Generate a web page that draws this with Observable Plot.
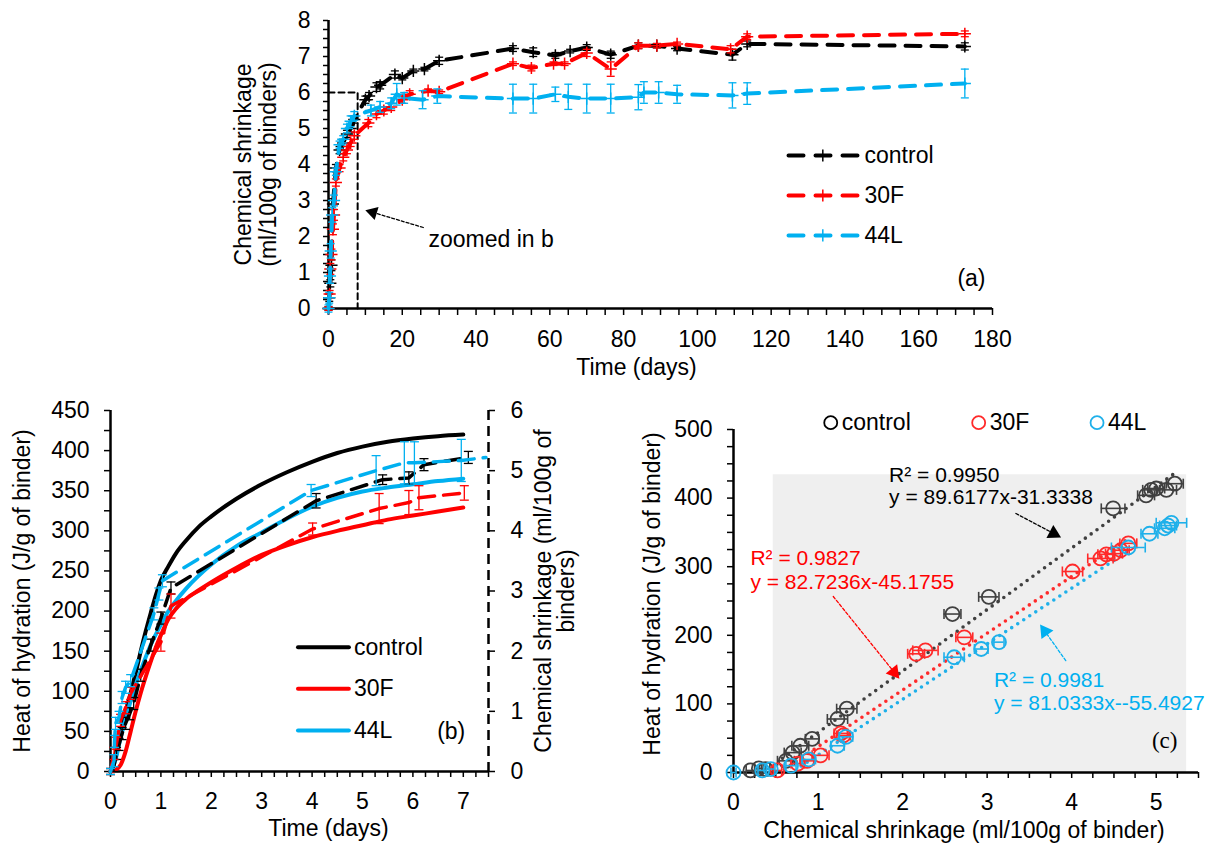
<!DOCTYPE html>
<html><head><meta charset="utf-8">
<script src="https://cdn.jsdelivr.net/npm/d3@7"></script>
<script src="https://cdn.jsdelivr.net/npm/@observablehq/plot@0.6"></script>
<style>
html,body{margin:0;padding:0;background:#fff;color:#000;}
#wrap{position:relative;width:1213px;height:843px;overflow:hidden;}
.panel{position:absolute;}
.panel svg{overflow:visible;background:transparent;}
</style></head><body>
<div id="wrap">
  <div id="pa" class="panel" style="left:200px;top:0px"></div>
  <div id="pb" class="panel" style="left:0px;top:395px"></div>
  <div id="pc" class="panel" style="left:610px;top:400px"></div>
</div>
<script>
// ================= DATA =================
const seriesNames = ["control", "30F", "44L"];

// Panel (a): [day, chemical shrinkage (ml/100g), error]
const controlA = [[0,0,0.05],[0.2,0.3,0.1],[0.5,0.7,0.1],[0.8,1.2,0.15],[1.2,2.9,0.15],[2,3.9,0.1],[3,4.4,0.1],[4,4.6,0.1],[5,4.85,0.1],[6,5.0,0.1],[7,5.25,0.1],[10,5.8,0.1],[11,5.9,0.1],[13,6.15,0.12],[14,6.2,0.1],[18,6.5,0.1],[20,6.4,0.05],[23,6.6,0.05],[26,6.65,0.05],[30,6.88,0.1],[50,7.22,0.08],[55.5,7.12,0.12],[61.5,7.03,0.08],[65.5,7.15,0.05],[70,7.25,0.08],[76.5,7.05,0.1],[84,7.3,0.08],[89,7.3,0.06],[94.5,7.22,0.06],[109.5,7.05,0.15],[113.5,7.35,0.08],[172.5,7.28,0.1]];
const f30A = [[0,0,0.05],[0.3,0.4,0.1],[0.5,1.1,0.15],[0.8,1.5,0.15],[1.2,2.2,0.15],[1.5,2.6,0.15],[2,3.5,0.1],[3,3.9,0.1],[4,4.2,0.1],[5,4.4,0.1],[6,4.6,0.1],[7,4.8,0.1],[10.8,5.15,0.1],[13,5.4,0.1],[15,5.5,0.1],[17,5.6,0.1],[20,5.8,0.1],[22,5.95,0.1],[27,6.05,0.05],[30,6.02,0.05],[50,6.8,0.05],[55,6.68,0.08],[61,6.8,0.05],[64,6.8,0.05],[70,7.1,0.1],[76.5,6.65,0.2],[84,7.3,0.08],[89,7.3,0.06],[94.5,7.35,0.05],[109,7.2,0.1],[113.5,7.55,0.08],[172.5,7.63,0.08]];
const l44A = [[0,0,0.1],[0.2,0.3,0.15],[0.4,0.9,0.2],[0.6,1.6,0.2],[1,2.6,0.2],[1.5,3.0,0.15],[2,3.8,0.1],[3,4.55,0.1],[4,4.7,0.1],[5,5.0,0.12],[6,5.2,0.15],[7,5.35,0.12],[11.5,5.5,0.15],[14,5.6,0.15],[17,5.7,0.15],[18.5,5.95,0.3],[20.5,5.85,0.15],[25.5,5.8,0.25],[29.5,5.9,0.2],[50,5.83,0.4],[55.5,5.83,0.4],[61.5,5.95,0.2],[65,5.88,0.35],[70,5.83,0.4],[76.5,5.83,0.4],[84,5.87,0.35],[85.5,6.0,0.3],[89.5,6.0,0.3],[94.5,5.95,0.25],[109.5,5.92,0.35],[113.5,5.97,0.3],[172.5,6.25,0.4]];
const zoomBoxA = [[0,6],[7.9,6],[7.9,0]];
const xTickLabelsA = d3.range(0, 181, 20);
const yTickLabelsA = d3.range(0, 9, 1);

// Panel (b): heat of hydration [day, J/g]
const ctrlHeatB = [[0,0],[0.05,8],[0.1,22],[0.2,50],[0.3,75],[0.4,98],[0.5,123],[0.6,150],[0.7,175],[0.8,198],[0.9,220],[1,238],[1.15,256],[1.3,272],[1.5,288],[1.75,305],[2,318],[2.5,340],[3,358],[3.5,373],[4,386],[4.5,397],[5,405],[5.5,411],[6,415],[6.5,418],[7,420]];
const f30HeatB = [[0,0],[0.1,2],[0.2,8],[0.3,25],[0.4,50],[0.5,75],[0.6,98],[0.75,128],[0.9,155],[1,170],[1.15,190],[1.3,203],[1.5,215],[1.75,226],[2,236],[2.5,254],[3,270],[3.5,282],[4,292],[4.5,300],[5,307],[5.5,314],[6,319],[6.5,324],[7,329]];
const l44HeatB = [[0,0],[0.1,15],[0.2,42],[0.3,65],[0.4,88],[0.5,108],[0.6,126],[0.8,158],[1,183],[1.15,200],[1.3,213],[1.5,228],[2,258],[2.5,281],[3,298],[3.5,315],[4,330],[4.5,341],[5,349],[5.5,354],[6,358],[6.5,362],[7,365]];
// Panel (b): chemical shrinkage [day, ml/100g, error] (right axis)
const ctrlShrinkB = [[0,0,0.05],[0.07,0.1,0.1],[0.12,0.3,0.1],[0.17,0.45,0.1],[0.23,0.63,0.1],[0.3,0.8,0.1],[0.38,0.96,0.1],[0.46,1.13,0.1],[0.6,1.6,0.1],[0.8,2.1,0.1],[1.0,2.55,0.1],[1.2,3.05,0.1],[4.08,4.5,0.12],[5.4,4.85,0.08],[5.92,4.88,0.1],[6.22,5.1,0.1],[7.1,5.22,0.1]];
const f30ShrinkB = [[0,0,0.05],[0.07,0.3,0.1],[0.12,0.47,0.1],[0.2,0.85,0.1],[0.3,1.06,0.1],[0.4,1.3,0.1],[1.0,2.15,0.15],[1.2,2.75,0.2],[4.01,4.03,0.1],[5.33,4.37,0.25],[5.92,4.47,0.2],[6.12,4.55,0.2],[7.02,4.63,0.12]];
const l44ShrinkB = [[0,0,0.05],[0.07,0.18,0.1],[0.08,0.5,0.1],[0.1,0.8,0.1],[0.17,0.9,0.1],[0.23,1.23,0.1],[0.3,1.4,0.1],[0.4,1.51,0.1],[0.86,2.62,0.1],[0.96,2.95,0.1],[1.03,3.17,0.1],[3.98,4.67,0.1],[5.27,5.0,0.25],[5.83,5.13,0.35],[6.03,5.13,0.35],[6.96,5.17,0.35],[7.45,5.22,0]];
const xTickLabelsB = d3.range(0, 8, 1);
const yLeftTickLabelsB = d3.range(0, 451, 50);
const yRightTickLabelsB = d3.range(0, 7, 1);

// Panel (c): [chemical shrinkage, heat of hydration, x-error]
const ctrlC = [[0.2,3,0.05],[0.3,6,0.05],[0.38,5,0.05],[0.62,17,0.1],[0.7,29,0.1],[0.79,39,0.1],[0.93,49,0.08],[1.23,78,0.12],[1.34,93,0.12],[2.59,231,0.1],[3.02,256,0.12],[4.49,385,0.14],[4.88,404,0.1],[4.94,412,0.1],[5.0,414,0.1],[5.12,412,0.12],[5.22,421,0.1]];
const f30C = [[0.52,3,0.05],[0.76,13,0.08],[0.87,17,0.08],[1.03,25,0.1],[1.27,57,0.08],[1.3,54,0.08],[2.16,173,0.1],[2.27,178,0.15],[2.73,197,0.1],[4.01,293,0.12],[4.34,312,0.15],[4.41,318,0.1],[4.5,319,0.1],[4.58,324,0.1],[4.67,334,0.1]];
const l44C = [[0,0,0.03],[0.34,3,0.05],[0.44,5,0.05],[0.68,10,0.06],[0.89,19,0.08],[1.23,39,0.08],[1.33,52,0.08],[2.61,168,0.12],[2.93,180,0.08],[3.14,190,0.06],[4.67,328,0.2],[4.92,348,0.1],[5.1,356,0.12],[5.14,360,0.1],[5.18,364,0.18]];
// trendlines: [slope, intercept, xStart, xEnd]
const fitsC = [[89.6177,-31.3338,0.58,5.25],[82.7236,-45.1755,0.6,4.67],[81.0333,-55.4927,0.8,4.65]];
const r2LabelsC = ["R² = 0.9950","R² = 0.9827","R² = 0.9981"];
const eqLabelsC = ["y = 89.6177x-31.3338","y = 82.7236x-45.1755","y = 81.0333x--55.4927"];
const insetC = [{x1:0.47, x2:5.36, y1:0, y2:434}];
const xTickLabelsC = d3.range(0, 6, 1);
const yTickLabelsC = d3.range(0, 501, 100);

// ================= STYLE / LAYOUT =================
const FONT = "Liberation Sans, Arial, Helvetica, sans-serif";
const colA = ["#000000", "#ff0000", "#00b0f0"];
const colC = ["#404040", "#ff2a2a", "#1fb0ea"];
const hCap = {draw(c, s){const r = Math.sqrt(s/Math.PI); c.moveTo(-r,0); c.lineTo(r,0);}};
const vCap = {draw(c, s){const r = Math.sqrt(s/Math.PI); c.moveTo(0,-r); c.lineTo(0,r);}};
const T = (data, o) => Plot.text(data, {fontFamily: FONT, fontSize: 23, fill: "#000", lineAnchor: "middle", textAnchor: "middle", ...o});
const one = (s) => [s];

function vErr(data, fx, fy, fe, color, capR, sw) {
  const d = data.filter(p => fe(p) > 0);
  return [
    Plot.ruleX(d, {x: fx, y1: p => fy(p) - fe(p), y2: p => fy(p) + fe(p), stroke: color, strokeWidth: sw}),
    Plot.dot(d, {x: fx, y: p => fy(p) - fe(p), symbol: hCap, r: capR, stroke: color, fill: "none", strokeWidth: sw}),
    Plot.dot(d, {x: fx, y: p => fy(p) + fe(p), symbol: hCap, r: capR, stroke: color, fill: "none", strokeWidth: sw})
  ];
}
function hErr(data, color, capR, sw) {
  const d = data.filter(p => p[2] > 0);
  return [
    Plot.ruleY(d, {y: p => p[1], x1: p => p[0] - p[2], x2: p => p[0] + p[2], stroke: color, strokeWidth: sw}),
    Plot.dot(d, {y: p => p[1], x: p => p[0] - p[2], symbol: vCap, r: capR, stroke: color, fill: "none", strokeWidth: sw}),
    Plot.dot(d, {y: p => p[1], x: p => p[0] + p[2], symbol: vCap, r: capR, stroke: color, fill: "none", strokeWidth: sw})
  ];
}
function arrow(a, kx, ky, color, dash, r) {
  const dxp = (a[2]-a[0])*kx, dyp = -(a[3]-a[1])*ky, n = Math.hypot(dxp, dyp);
  const ux = dxp/n, uy = dyp/n;
  const ang = Math.atan2(ux, -uy) * 180 / Math.PI;
  const off = 2*Math.sqrt(Math.PI*r*r/(3*Math.sqrt(3)));
  const hx = a[2] - ux*off/kx, hy = a[3] + uy*off/ky;
  return [
    Plot.line([[a[0],a[1]],[hx,hy]], {stroke: color, strokeWidth: 1.3, strokeDasharray: dash}),
    Plot.dot([{x: hx, y: hy, a: ang}], {x: "x", y: "y", rotate: "a", symbol: "triangle2", r, fill: color, stroke: "none"})
  ];
}

// ================= PANEL (a) =================
{
  const W = 820, H = 390, mL = 128, mR = 28, mT = 20, mB = 82;
  const kx = (W-mL-mR)/180, ky = (H-mT-mB)/8;
  const data = [controlA, f30A, l44A];
  const marks = [
    Plot.axisX({ticks: d3.range(0,181,5), tickSize: 7, tickPadding: 15, tickFormat: d => xTickLabelsA.includes(d) ? d : "", fontSize: 23, fontFamily: FONT, strokeWidth: 1.5, label: null}),
    Plot.axisY({ticks: d3.range(0,8.01,0.25), tickSize: 5, tickPadding: 13, tickFormat: d => yTickLabelsA.includes(d) ? d : "", fontSize: 23, fontFamily: FONT, strokeWidth: 1.5, label: null}),
    Plot.ruleY([0], {strokeWidth: 2.5}),
    Plot.ruleX([0], {strokeWidth: 2.5}),
    Plot.line(zoomBoxA, {stroke: "#000", strokeWidth: 2, strokeDasharray: "6,4"}),
    T(one("Time (days)"), {frameAnchor: "bottom", dx: -24, dy: 59}),
    T(one("Chemical shrinkage"), {frameAnchor: "left", rotate: -90, dx: -85}),
    T(one("(ml/100g of binders)"), {frameAnchor: "left", rotate: -90, dx: -60}),
    T(one("zoomed in b"), {x: 27.1, y: 1.9, textAnchor: "start"}),
    arrow([25.7, 2.25, 9.4, 2.75], kx, ky, "#000", "3,2", 6.5),
    T(one("(a)"), {x: 174.3, y: 0.83})
  ];
  data.forEach((d, i) => {
    marks.push(vErr(d, p => p[0], p => p[1], p => p[2], colA[i], 4, 1.3));
    marks.push(Plot.line(d, {x: p => p[0], y: p => p[1], stroke: colA[i], strokeWidth: 4, strokeDasharray: "15,11"}));
    marks.push(Plot.dot(d, {x: p => p[0], y: p => p[1], symbol: "plus", r: 4, stroke: colA[i], strokeWidth: 1.5}));
  });
  const legY = [4.25, 3.14, 2.03];
  seriesNames.forEach((nm, i) => {
    marks.push(Plot.line([[124.7, legY[i]], [143.4, legY[i]]], {stroke: colA[i], strokeWidth: 4, strokeDasharray: "15,12"}));
    marks.push(Plot.dot([[134, legY[i]]], {symbol: "plus", r: 4, stroke: colA[i], strokeWidth: 1.5}));
    marks.push(T(one(nm), {x: 145.3, y: legY[i], textAnchor: "start"}));
  });
  const p = Plot.plot({width: W, height: H, marginLeft: mL, marginRight: mR, marginTop: mT, marginBottom: mB,
    style: {fontFamily: FONT, fontSize: "23px", overflow: "visible", background: "transparent", color: "#000"},
    x: {domain: [0, 180]}, y: {domain: [0, 8]}, marks});
  document.getElementById("pa").appendChild(p);
}

// ================= PANEL (b) =================
{
  const W = 600, H = 448, mL = 110, mR = 112, mT = 15, mB = 72;
  const K = 450 / 6; // left axis J/g per right-axis ml/100g
  const heat = [ctrlHeatB, f30HeatB, l44HeatB];
  const shr = [ctrlShrinkB, f30ShrinkB, l44ShrinkB];
  const marks = [
    Plot.axisX({ticks: d3.range(0,7.51,0.25), tickSize: 6, tickPadding: 15, tickFormat: d => xTickLabelsB.includes(d) ? d : "", fontSize: 23, fontFamily: FONT, strokeWidth: 1.5, label: null}),
    Plot.axisY({ticks: d3.range(0,451,25), tickSize: 6, tickPadding: 15, tickFormat: d => yLeftTickLabelsB.includes(d) ? d : "", fontSize: 23, fontFamily: FONT, strokeWidth: 1.5, label: null}),
    Plot.axisY({anchor: "right", ticks: yRightTickLabelsB.map(v => v*K), tickSize: 6, tickPadding: 16, tickFormat: d => Math.round(d/K), fontSize: 23, fontFamily: FONT, strokeWidth: 1.5, label: null}),
    Plot.ruleY([0], {strokeWidth: 2.5}),
    Plot.ruleX([0], {strokeWidth: 2.5}),
    Plot.ruleX([7.5], {strokeWidth: 2.5, strokeDasharray: "10,6"}),
    T(one("Time (days)"), {frameAnchor: "bottom", dx: 29, dy: 57}),
    T(one("Heat of hydration (J/g of binder)"), {frameAnchor: "left", rotate: -90, dx: -88}),
    T(one("Chemical shrinkage (ml/100g of"), {frameAnchor: "right", rotate: -90, dx: 55}),
    T(one("binders)"), {frameAnchor: "right", rotate: -90, dx: 78}),
    T(one("(b)"), {x: 6.76, y: 50})
  ];
  heat.forEach((d, i) => marks.push(Plot.line(d, {x: p => p[0], y: p => p[1], stroke: colA[i], strokeWidth: 4, curve: "monotone-x"})));
  shr.forEach((d, i) => {
    marks.push(vErr(d, p => p[0], p => p[1]*K, p => p[2]*K, colA[i], 4.5, 1.3));
    marks.push(Plot.line(d, {x: p => p[0], y: p => p[1]*K, stroke: colA[i], strokeWidth: 3.5, strokeDasharray: "16,9"}));
  });
  const legY = [155, 103, 51];
  seriesNames.forEach((nm, i) => {
    marks.push(Plot.line([[3.72, legY[i]], [4.73, legY[i]]], {stroke: colA[i], strokeWidth: 4}));
    marks.push(T(one(nm), {x: 4.83, y: legY[i], textAnchor: "start"}));
  });
  const p = Plot.plot({width: W, height: H, marginLeft: mL, marginRight: mR, marginTop: mT, marginBottom: mB,
    style: {fontFamily: FONT, fontSize: "23px", overflow: "visible", background: "transparent", color: "#000"},
    x: {domain: [0, 7.5]}, y: {domain: [0, 450]}, marks});
  document.getElementById("pb").appendChild(p);
}

// ================= PANEL (c) =================
{
  const W = 603, H = 443, mL = 123, mR = 15, mT = 29, mB = 71;
  const kx = (W-mL-mR)/5.5, ky = (H-mT-mB)/500;
  const pts = [ctrlC, f30C, l44C];
  const marks = [
    Plot.rect(insetC, {x1: "x1", x2: "x2", y1: "y1", y2: "y2", fill: "#efefef"}),
    Plot.axisX({ticks: d3.range(0,5.51,0.25), tickSize: 6, tickPadding: 15, tickFormat: d => xTickLabelsC.includes(d) ? d : "", fontSize: 23, fontFamily: FONT, strokeWidth: 1.5, label: null}),
    Plot.axisY({ticks: d3.range(0,501,25), tickSize: 6, tickPadding: 15, tickFormat: d => yTickLabelsC.includes(d) ? d : "", fontSize: 23, fontFamily: FONT, strokeWidth: 1.5, label: null}),
    Plot.ruleY([0], {strokeWidth: 2.5}),
    Plot.ruleX([0], {strokeWidth: 2.5}),
    T(one("Chemical shrinkage (ml/100g of binder)"), {frameAnchor: "bottom", dx: -2, dy: 58}),
    T(one("Heat of hydration (J/g of binder)"), {frameAnchor: "left", rotate: -90, dx: -81, dy: -7}),
    T(one("(c)"), {x: 5.1, y: 47, fontFamily: "Liberation Serif, Times New Roman, serif"})
  ];
  fitsC.forEach((f, i) => marks.push(Plot.line([[f[2], f[0]*f[2]+f[1]], [f[3], f[0]*f[3]+f[1]]], {stroke: colC[i], strokeWidth: 3.6, strokeDasharray: "0,7.2", strokeLinecap: "round"})));
  pts.forEach((d, i) => {
    marks.push(hErr(d, colC[i], 5, 1.6));
    marks.push(Plot.dot(d, {x: p => p[0], y: p => p[1], r: 7, stroke: colC[i], fill: "none", strokeWidth: 1.8}));
  });
  // annotations
  const annX = [1.84, 0.2, 3.08], annY1 = [434, 312, 134], annY2 = [401, 277, 100.6];
  const ann = [[3.34, 377.6, 3.9, 341], [1.18, 256.6, 1.98, 134], [3.93, 163, 3.61, 218.7]];
  const annCol = ["#000000", "#ff0000", "#00b0f0"];
  [0,1,2].forEach(i => {
    marks.push(T(one(r2LabelsC[i]), {x: annX[i], y: annY1[i], textAnchor: "start", fontSize: 21, fill: annCol[i]}));
    marks.push(T(one(eqLabelsC[i]), {x: annX[i], y: annY2[i], textAnchor: "start", fontSize: 21, fill: annCol[i]}));
    marks.push(arrow(ann[i], kx, ky, annCol[i], "3,2", 7));
  });
  // legend
  const legX = [1.15, 2.9, 4.3];
  seriesNames.forEach((nm, i) => {
    marks.push(Plot.dot(one([legX[i], 510]), {r: 6.5, stroke: colC[i] === "#404040" ? "#000" : colC[i], fill: "none", strokeWidth: 1.8}));
    marks.push(T(one(nm), {x: legX[i] + 0.13, y: 510, textAnchor: "start"}));
  });
  const p = Plot.plot({width: W, height: H, marginLeft: mL, marginRight: mR, marginTop: mT, marginBottom: mB,
    style: {fontFamily: FONT, fontSize: "23px", overflow: "visible", background: "transparent", color: "#000"},
    x: {domain: [0, 5.5]}, y: {domain: [0, 500]}, marks});
  document.getElementById("pc").appendChild(p);
}
</script>
</body></html>
